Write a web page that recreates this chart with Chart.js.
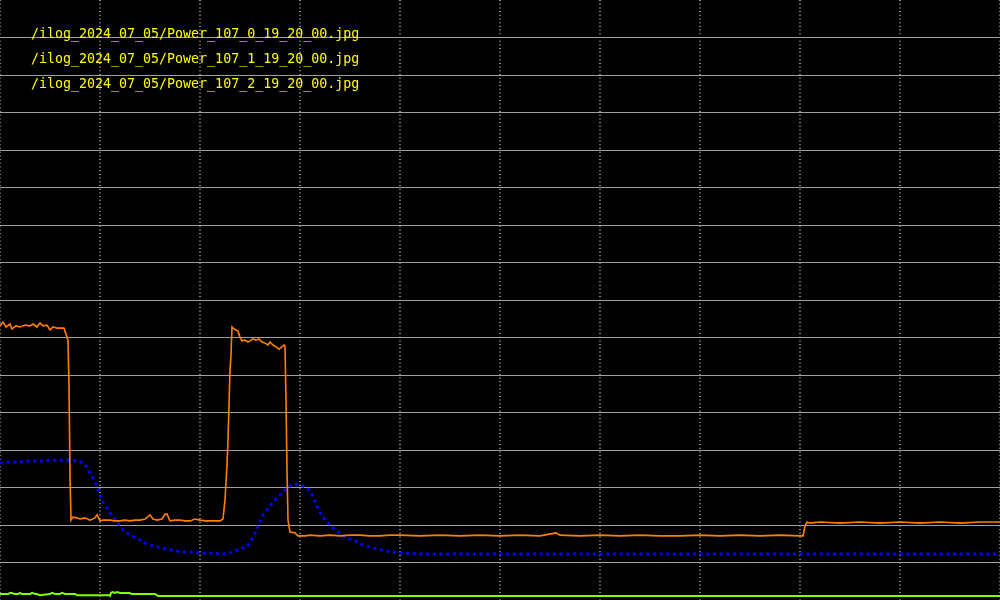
<!DOCTYPE html>
<html>
<head>
<meta charset="utf-8">
<script src="https://cdn.jsdelivr.net/npm/chart.js@4"></script>
<style>
html,body{margin:0;padding:0;background:#000;}
#wrap{width:1000px;height:600px;}
</style>
</head>
<body>
<div id="wrap"><canvas id="c" width="1000" height="600"></canvas></div>
<script>
// Labels of the three series (file names drawn as the legend)
const seriesLabels = [
  "/ilog_2024_07_05/Power_107_0_19_20_00.jpg",
  "/ilog_2024_07_05/Power_107_1_19_20_00.jpg",
  "/ilog_2024_07_05/Power_107_2_19_20_00.jpg"
];

// Series 0 (orange) - x positions (0..1000) and values (0..16 grid units)
const orangeX = [0,3,6,10,12,16,20,25,30,33,37,40,43,47,50,53,57,60,64,66,68,69,70,71,73,77,80,85,90,95,97,100,103,110,115,120,125,130,135,140,145,150,153,157,162,165,167,170,175,180,185,190,195,200,205,210,215,220,223,225,227,228,230,231,232,234,236,238,240,242,245,248,250,253,256,259,262,265,268,270,273,276,279,282,284,285,286,287,288,290,295,298,305,310,320,330,340,350,360,370,380,390,400,420,440,460,480,500,520,540,556,560,580,600,620,640,660,680,700,720,740,760,780,800,803,805,807,810,820,840,860,880,900,920,940,960,980,1000];
const orangeY = [7.31,7.41,7.28,7.36,7.23,7.31,7.28,7.33,7.31,7.36,7.28,7.39,7.31,7.33,7.20,7.28,7.25,7.25,7.25,7.09,6.93,5.71,3.33,2.13,2.21,2.19,2.16,2.19,2.13,2.19,2.27,2.11,2.13,2.13,2.11,2.11,2.13,2.11,2.13,2.13,2.16,2.27,2.16,2.13,2.16,2.29,2.29,2.11,2.13,2.13,2.11,2.11,2.16,2.13,2.11,2.11,2.11,2.11,2.16,2.67,3.60,4.27,6.13,6.53,7.28,7.23,7.20,7.17,7.01,6.91,6.93,6.88,6.91,6.96,6.93,6.96,6.88,6.85,6.80,6.88,6.80,6.75,6.69,6.75,6.80,6.77,5.33,3.47,2.13,1.81,1.79,1.71,1.71,1.73,1.71,1.73,1.71,1.73,1.73,1.71,1.71,1.73,1.73,1.71,1.73,1.71,1.73,1.71,1.73,1.71,1.79,1.73,1.71,1.73,1.71,1.73,1.71,1.71,1.73,1.71,1.73,1.71,1.73,1.71,1.71,1.97,2.08,2.05,2.08,2.05,2.08,2.05,2.08,2.05,2.08,2.05,2.08,2.08];

// Series 1 (blue dashed)
const blueX = [0,10,20,30,40,50,60,70,78,83,87,90,94,97,100,103,107,110,114,117,120,123,127,130,137,143,150,158,167,175,183,192,200,210,220,228,233,237,243,247,250,254,257,260,263,266,270,273,277,280,283,287,290,294,297,300,303,306,310,313,317,320,323,327,330,333,337,340,343,347,350,357,363,370,377,385,392,400,420,450,500,600,700,800,900,1000];
const blueY = [3.65,3.68,3.68,3.71,3.71,3.73,3.73,3.73,3.71,3.65,3.55,3.39,3.20,3.01,2.80,2.61,2.45,2.32,2.19,2.08,1.97,1.87,1.79,1.73,1.65,1.55,1.47,1.41,1.36,1.31,1.28,1.28,1.25,1.25,1.23,1.23,1.28,1.33,1.39,1.41,1.55,1.73,1.89,2.08,2.27,2.37,2.51,2.61,2.72,2.80,2.88,2.99,3.04,3.09,3.09,3.07,3.04,3.01,2.91,2.75,2.51,2.35,2.21,2.08,2.00,1.92,1.84,1.76,1.71,1.65,1.63,1.55,1.47,1.41,1.36,1.31,1.28,1.25,1.23,1.23,1.23,1.23,1.23,1.23,1.23,1.23];

// Series 2 (green)
const greenX = [0,8,10,12,14,18,20,22,30,32,35,37,40,50,52,55,60,62,65,75,77,100,109,110,111,113,115,117,120,130,131,155,158,1000];
const greenY = [0.16,0.16,0.19,0.19,0.16,0.16,0.19,0.16,0.16,0.19,0.16,0.16,0.13,0.16,0.19,0.16,0.16,0.19,0.16,0.16,0.13,0.13,0.13,0.11,0.19,0.21,0.19,0.21,0.19,0.19,0.16,0.16,0.11,0.11];

const seriesColors = ["#ff8000", "#0000ff", "#80ff00"];

function pts(xs, ys){ return xs.map((x,i)=>({x:x, y:ys[i]})); }

const bgPlugin = {
  id: 'bg',
  beforeDraw(chart){
    const ctx = chart.ctx;
    ctx.save();
    ctx.fillStyle = '#000';
    ctx.fillRect(0,0,chart.width,chart.height);
    ctx.restore();
  }
};
const labelPlugin = {
  id: 'fileLabels',
  afterDraw(chart){
    const ctx = chart.ctx;
    ctx.save();
    ctx.font = '13.3px "DejaVu Sans Mono", monospace';
    ctx.fillStyle = '#ffff00';
    ctx.textBaseline = 'alphabetic';
    ctx.textAlign = 'left';
    seriesLabels.forEach((t,i)=>{ ctx.fillText(t, 31, 37.5 + i*25); });
    ctx.restore();
  }
};

new Chart(document.getElementById('c'), {
  type: 'line',
  data: {
    datasets: [
      { label: seriesLabels[0], data: pts(orangeX, orangeY), borderColor: seriesColors[0], borderWidth: 1.6, pointRadius: 0, tension: 0, order: 1 },
      { label: seriesLabels[1], data: pts(blueX, blueY), borderColor: seriesColors[1], borderWidth: 3, borderDash: [3, 3.67], pointRadius: 0, tension: 0, order: 2 },
      { label: seriesLabels[2], data: pts(greenX, greenY), borderColor: seriesColors[2], borderWidth: 2, pointRadius: 0, tension: 0, order: 0 }
    ]
  },
  options: {
    responsive: false,
    animation: false,
    layout: { padding: 0 },
    plugins: { legend: { display: false }, tooltip: { enabled: false } },
    scales: {
      x: {
        type: 'linear', min: 0, max: 1000,
        ticks: { display: false, stepSize: 100 },
        grid: { color: '#8c8c8c', lineWidth: 2, drawTicks: false },
        border: { display: false, dash: [1, 2.7] }
      },
      y: {
        type: 'linear', min: 0, max: 16,
        ticks: { display: false, stepSize: 1 },
        grid: { color: (c) => (c.tick && c.tick.value >= 16) ? 'rgba(0,0,0,0)' : '#a0a0a0', lineWidth: 1, drawTicks: false },
        border: { display: false }
      }
    }
  },
  plugins: [bgPlugin, labelPlugin]
});
</script>
</body>
</html>
